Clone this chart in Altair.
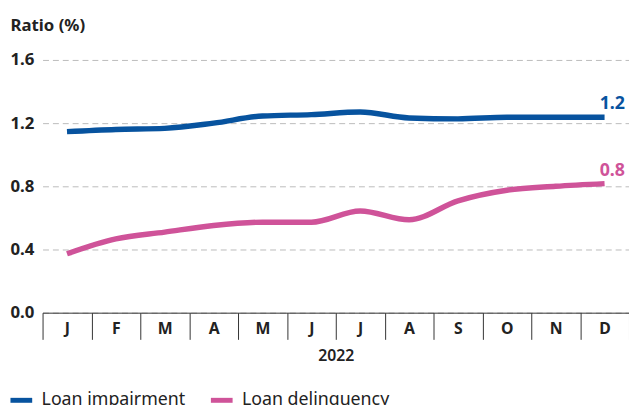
import altair as alt
import pandas as pd

months = ["Jan", "Feb", "Mar", "Apr", "May", "Jun", "Jul", "Aug", "Sep", "Oct", "Nov", "Dec"]
impairment = [1.146, 1.16, 1.167, 1.20, 1.245, 1.254, 1.27, 1.233, 1.227, 1.237, 1.237, 1.237]
delinquency = [0.373, 0.467, 0.51, 0.552, 0.573, 0.573, 0.644, 0.588, 0.708, 0.775, 0.80, 0.817]
series = ["Loan impairment", "Loan delinquency"]
colors = ["#07539f", "#cf5399"]
end_labels = ["1.2", "0.8"]

rows = []
for s, vals in zip(series, [impairment, delinquency]):
    for m, v in zip(months, vals):
        rows.append({"month": m, "value": v, "series": s})
df = pd.DataFrame(rows)

end_df = pd.DataFrame({
    "month": [months[-1], months[-1]],
    "value": [impairment[-1], delinquency[-1]],
    "series": series,
    "label": end_labels,
})

FONT = "Noto Sans"

x_enc = alt.X(
    "month:N",
    sort=months,
    bandPosition=0.5,
    scale=alt.Scale(type="band", paddingInner=0, paddingOuter=0),
    axis=alt.Axis(
        title="2022",
        tickBand="extent",
        tickSize=27,
        tickColor="#333333",
        domainColor="#333333",
        labelExpr="substring(datum.label, 0, 1)",
        labelAngle=0,
        labelBaseline="middle",
        labelPadding=-11,
        labelFontSize=16,
        labelFontWeight="bold",
        labelColor="#222222",
        labelFont=FONT,
        titleFont=FONT,
        titleFontSize=16,
        titleFontWeight=600,
        titleColor="#222222",
        titleBaseline="middle",
        titleY=43,
        grid=False,
    ),
)

y_enc = alt.Y(
    "value:Q",
    scale=alt.Scale(domain=[0, 1.6]),
    axis=alt.Axis(
        title="Ratio (%)",
        titleAngle=0,
        titleAlign="left",
        titleBaseline="middle",
        titleX=-33,
        titleY=-35,
        titleFont=FONT,
        titleFontSize=17,
        titleFontWeight="bold",
        titleColor="#222222",
        values=[0, 0.4, 0.8, 1.2, 1.6],
        format=".1f",
        labelAlign="left",
        labelBaseline="middle",
        labelPadding=33,
        labelFont=FONT,
        labelFontSize=17,
        labelFontWeight="bold",
        labelColor="#222222",
        ticks=False,
        domain=False,
        grid=True,
        gridColor="#bbbbbb",
        gridDash=[6, 4],
        gridWidth=1,
    ),
)

color_enc = alt.Color(
    "series:N",
    scale=alt.Scale(domain=series, range=colors),
    legend=alt.Legend(
        title=None,
        orient="none",
        legendX=-35,
        legendY=331,
        direction="horizontal",
        symbolType="stroke",
        symbolStrokeWidth=5,
        symbolSize=484,
        labelFont=FONT,
        labelFontSize=18,
        labelColor="#222222",
        labelOffset=7,
        columnPadding=15,
    ),
)

lines = alt.Chart(df).mark_line(strokeWidth=5.5, interpolate="monotone").encode(
    x=x_enc, y=y_enc, color=color_enc
)

labels = alt.Chart(end_df).mark_text(
    align="left", baseline="alphabetic", dx=-5, dy=-8, font=FONT, fontSize=18, fontWeight="bold"
).encode(
    x=alt.X("month:N", sort=months, bandPosition=0.5),
    y="value:Q",
    text="label:N",
    color=alt.Color("series:N", scale=alt.Scale(domain=series, range=colors), legend=None),
)

chart = alt.layer(lines, labels).properties(
    width=594,
    height=256,
    autosize=alt.AutoSizeParams(type="none"),
    padding={"left": 35, "top": 50, "right": 0, "bottom": 100},
).configure_view(stroke=None)

chart.save("out.html", embed_options={"renderer": "svg", "actions": False})
